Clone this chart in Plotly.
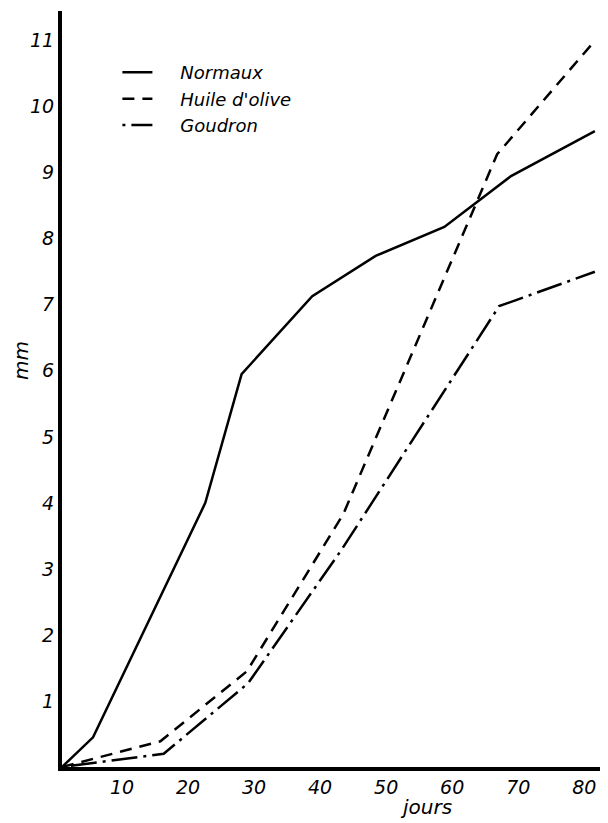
import plotly.graph_objects as go

# Data (days, mm)
normaux_x = [0, 4.7, 21.7, 27.2, 37.9, 47.5, 57.9, 68.0, 80.7]
normaux_y = [0, 0.45, 4.0, 5.95, 7.13, 7.74, 8.18, 8.95, 9.63]

huile_x = [0, 14.9, 28.0, 42.6, 65.9, 80.7]
huile_y = [0, 0.39, 1.45, 3.83, 9.28, 11.0]

goudron_x = [0, 15.4, 28.2, 42.4, 66.2, 80.7]
goudron_y = [0, 0.2, 1.27, 3.3, 6.98, 7.5]

x_ticks = [10, 20, 30, 40, 50, 60, 70, 80]
y_ticks = [1, 2, 3, 4, 5, 6, 7, 8, 9, 10, 11]

FONT = "DejaVu Sans"
GAP = "\u00a0" * 4

fig = go.Figure()
fig.add_trace(go.Scatter(x=normaux_x, y=normaux_y, mode="lines", name=GAP + "Normaux",
                         line=dict(color="black", width=2.5, dash="solid")))
fig.add_trace(go.Scatter(x=huile_x, y=huile_y, mode="lines", name=GAP + "Huile d'olive",
                         line=dict(color="black", width=2.5, dash="12px,8px")))
fig.add_trace(go.Scatter(x=goudron_x, y=goudron_y, mode="lines", name=GAP + "Goudron",
                         line=dict(color="black", width=2.5, dash="3px,6px,26px,6px")))

fig.update_layout(
    width=608, height=823,
    margin=dict(l=54, r=0, t=3, b=64),
    paper_bgcolor="white", plot_bgcolor="white",
    font=dict(family=FONT, color="black", size=18, style="italic"),
    showlegend=True,
    legend=dict(x=0.10, y=0.943, xanchor="left", yanchor="top",
                bgcolor="rgba(0,0,0,0)", borderwidth=0,
                font=dict(family=FONT, size=18, style="italic", color="black"),
                itemwidth=30, tracegroupgap=0),
    xaxis=dict(range=[0, 83.9], showgrid=False, zeroline=False,
               showline=True, linewidth=4, linecolor="black",
               tickvals=x_ticks, ticktext=[str(v) for v in x_ticks],
               ticklabelshift=-6,
               ticks="", tickfont=dict(size=19, family=FONT, style="italic")),
    yaxis=dict(range=[0, 11.45], showgrid=False, zeroline=False,
               showline=True, linewidth=4, linecolor="black",
               tickvals=y_ticks, ticktext=[str(v) for v in y_ticks],
               ticks="", tickfont=dict(size=19, family=FONT, style="italic")),
    annotations=[
        dict(text="mm", xref="paper", yref="paper", x=-0.074, y=0.537,
             textangle=-90, showarrow=False, xanchor="center", yanchor="middle",
             font=dict(size=20, family=FONT, style="italic")),
        dict(text="jours", xref="x", yref="paper", x=55.2, y=-0.053,
             showarrow=False, xanchor="center", yanchor="middle",
             font=dict(size=20, family=FONT, style="italic")),
    ],
)

fig.write_html("out.html")
